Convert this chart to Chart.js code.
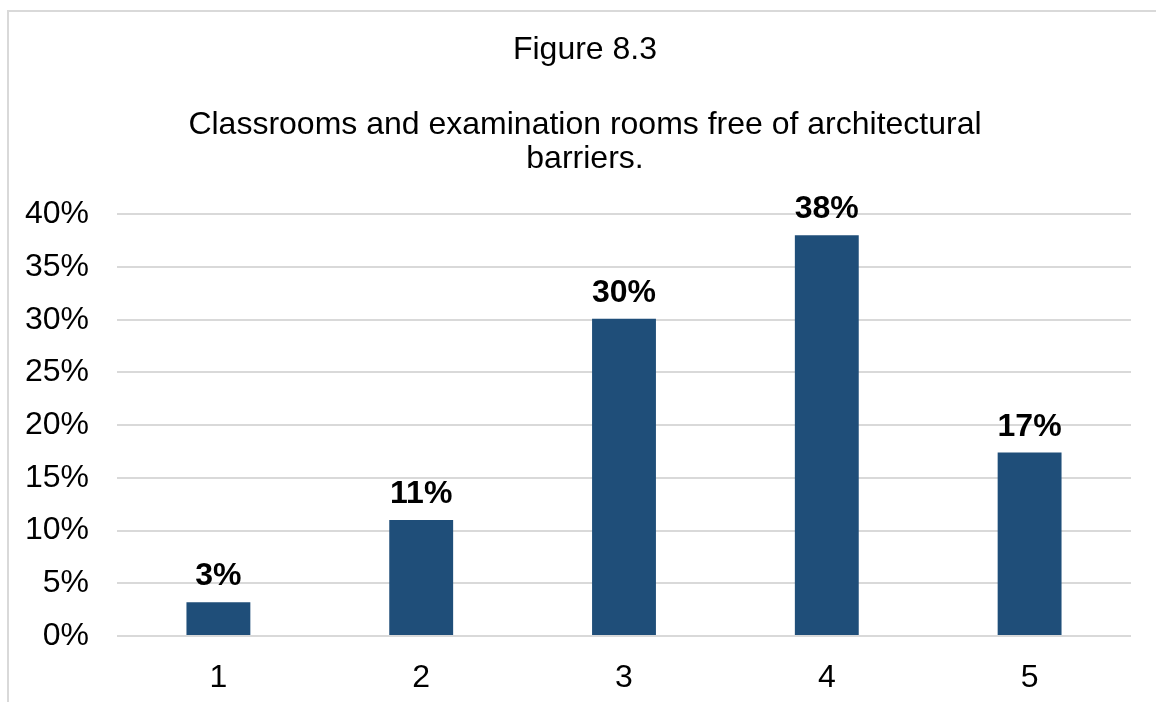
<!DOCTYPE html>
<html>
<head>
<meta charset="utf-8">
<script src="https://cdn.jsdelivr.net/npm/chart.js@4/dist/chart.umd.min.js"></script>
<style>
  html, body { margin: 0; padding: 0; background: #fff; overflow: hidden; }
  #frame { position: absolute; left: 7px; top: 10px; width: 1300px; height: 900px;
           border-top: 2px solid #d9d9d9; border-left: 2px solid #d9d9d9; }
  #wrap { position: absolute; left: 0; top: 0; width: 1156px; height: 702px; }
</style>
</head>
<body>
<div id="frame"></div>
<div id="wrap"><canvas id="c" width="1156" height="702"></canvas></div>
<script>
const categories = ['1', '2', '3', '4', '5'];
const values = [3.2, 11.0, 30.1, 38.0, 17.4];
const valueLabels = ['3%', '11%', '30%', '38%', '17%'];
const yTicks = [0, 5, 10, 15, 20, 25, 30, 35, 40];
const titleText = 'Figure 8.3';
const subtitleLines = ['Classrooms and examination rooms free of architectural', 'barriers.'];

const FONT = "'Liberation Sans', Arial, sans-serif";

const labelPlugin = {
  id: 'valueLabels',
  afterDatasetsDraw(chart) {
    const ctx = chart.ctx;
    const meta = chart.getDatasetMeta(0);
    ctx.save();
    ctx.font = 'bold 32px ' + FONT;
    ctx.fillStyle = '#000';
    ctx.textAlign = 'center';
    ctx.textBaseline = 'alphabetic';
    meta.data.forEach((bar, i) => {
      ctx.fillText(valueLabels[i], bar.x, bar.y - 17);
    });
    ctx.restore();
  }
};

// shift the title blocks so they are centred like the original
const titleShift = {
  id: 'titleShift',
  afterLayout(chart) {
    chart.boxes.forEach(b => {
      if (b.options && b.options.text !== undefined && b.id === undefined) {
        b.left += 11.5;
        b.right += 11.5;
      }
    });
  }
};

new Chart(document.getElementById('c'), {
  type: 'bar',
  data: {
    labels: categories,
    datasets: [{
      data: values,
      backgroundColor: '#1f4e79',
      borderWidth: 0,
      categoryPercentage: 1.0,
      barPercentage: 0.315
    }]
  },
  plugins: [labelPlugin, titleShift],
  options: {
    responsive: false,
    animation: false,
    devicePixelRatio: 1,
    layout: { padding: { left: 16, right: 25, top: 0, bottom: 0 } },
    plugins: {
      legend: { display: false },
      tooltip: { enabled: false },
      title: {
        display: true,
        text: titleText,
        color: '#000',
        font: { family: FONT, size: 32, weight: 'normal', lineHeight: 1.2 },
        padding: { top: 31, bottom: 0 }
      },
      subtitle: {
        display: true,
        text: subtitleLines,
        color: '#000',
        font: { family: FONT, size: 32, weight: 'normal', lineHeight: 1.06 },
        padding: { top: 39, bottom: 38 }
      }
    },
    scales: {
      x: {
        grid: { display: false },
        border: { display: false },
        afterFit(scale) { scale.height = 66; },
        ticks: { color: '#000', font: { family: FONT, size: 32 }, padding: 15, maxRotation: 0 }
      },
      y: {
        min: 0,
        max: 40,
        afterBuildTicks(scale) { scale.ticks = yTicks.map(v => ({ value: v })); },
        afterFit(scale) { scale.width = 101; },
        grid: { color: '#d9d9d9', lineWidth: 2, drawTicks: false },
        border: { display: false },
        ticks: {
          color: '#000',
          font: { family: FONT, size: 32 },
          padding: 28,
          callback: v => v + '%'
        }
      }
    }
  }
});
</script>
</body>
</html>
